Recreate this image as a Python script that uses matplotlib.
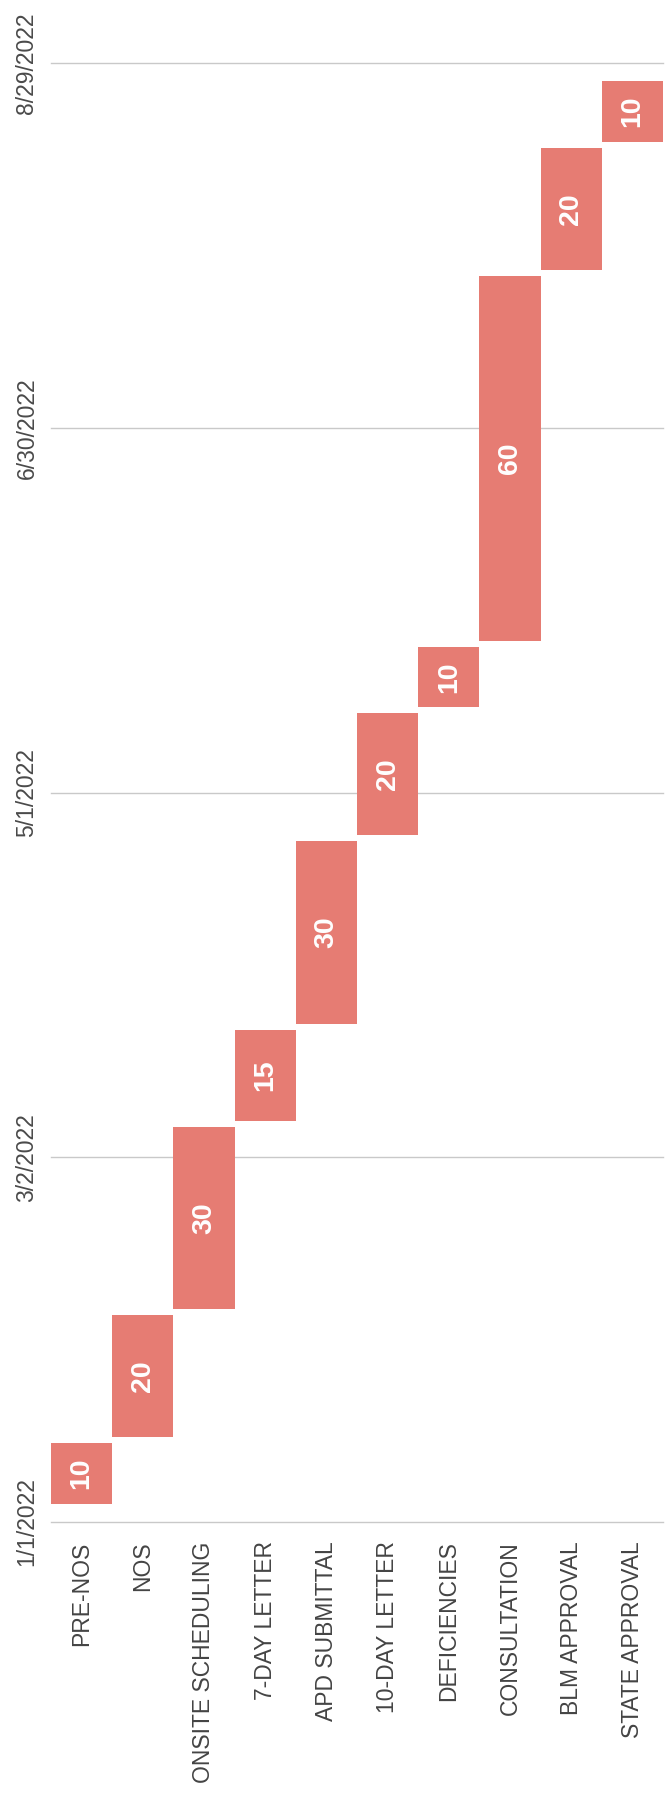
import matplotlib
matplotlib.use("Agg")
import matplotlib.pyplot as plt

# permitting timeline, days counted from 1/1/2022
tasks = ["PRE-NOS", "NOS", "ONSITE SCHEDULING", "7-DAY LETTER", "APD SUBMITTAL",
         "10-DAY LETTER", "DEFICIENCIES", "CONSULTATION", "BLM APPROVAL", "STATE APPROVAL"]
start_days = [3, 14, 35, 66, 82, 113, 134, 145, 206, 227]
durations = [10, 20, 30, 15, 30, 20, 10, 60, 20, 10]
date_ticks = [0, 60, 120, 180, 240]
date_labels = ["1/1/2022", "3/2/2022", "5/1/2022", "6/30/2022", "8/29/2022"]

plt.rcParams['font.family'] = ['Liberation Sans', 'DejaVu Sans']

W, H = 668, 1793
fig = plt.figure(figsize=(W / 100, H / 100), dpi=100)
fig.patch.set_facecolor('white')
ax = fig.add_axes([51 / W, (H - 1522) / H, (663 - 51) / W, (1522 - 63) / H])

x = list(range(len(tasks)))
ax.bar(x, durations, bottom=start_days, width=1.0, color='#E67C73', zorder=3)

for i in x:
    ax.text(i, start_days[i] + durations[i] / 2, str(durations[i]), rotation=90,
            ha='center', va='center', color='white', fontsize=20.5,
            fontweight='bold', zorder=4)

for d in date_ticks:
    ax.axhline(d, color='#c9c9c9', lw=1.0, zorder=1, clip_on=False)

ax.set_xlim(-0.5, len(tasks) - 0.5)
ax.set_ylim(0, 240)
ax.set_xticks(x)
ax.set_xticklabels(tasks, rotation=90, ha='center', va='top', fontsize=16.5, color='#444444')
ax.set_yticks(date_ticks)
ax.set_yticklabels(date_labels, rotation=90, ha='right', va='center', fontsize=16.5, color='#4a4a4a')
ax.tick_params(axis='x', length=0, pad=14)
ax.tick_params(axis='y', length=0, pad=9)
for s in ax.spines.values():
    s.set_visible(False)

fig.savefig("out.png", dpi=100, facecolor='white')
